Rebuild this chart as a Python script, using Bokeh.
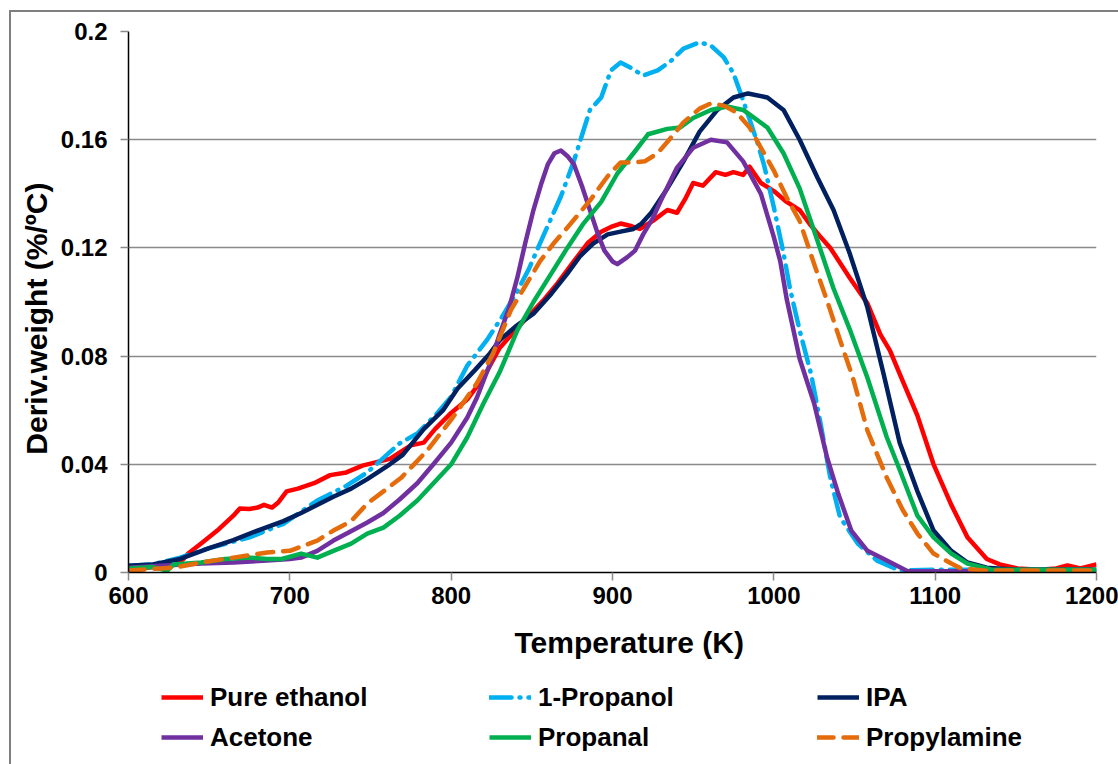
from bokeh.plotting import figure
from bokeh.layouts import column
from bokeh.models import Legend, LegendItem, FixedTicker, NumeralTickFormatter
from bokeh.embed import file_html
from bokeh.resources import INLINE

FONT = "Liberation Sans"
NBSP = "\u00a0"

x_ticks = [600, 700, 800, 900, 1000, 1100, 1200]
y_ticks = [0, 0.04, 0.08, 0.12, 0.16, 0.2]

names = ["Pure ethanol", "1-Propanol", "IPA", "Acetone", "Propanal", "Propylamine"]

ethanol_T = [600, 615, 630, 634, 637, 645, 655, 665, 669, 675, 680, 684, 689, 693, 698, 705, 715, 725,
             735, 745, 755, 762, 775, 783, 790, 800, 810, 820, 830, 845, 857, 866, 876, 885, 893, 900,
             905, 912, 917, 925, 934, 940, 945, 950, 956, 964, 970, 975, 981, 985, 992, 1000, 1008,
             1016, 1022, 1029, 1035, 1047, 1058, 1066, 1072, 1079, 1089, 1099, 1110, 1120, 1132, 1140,
             1151, 1165, 1175, 1182, 1190, 1200]
ethanol_v = [0.001, 0.002, 0.003, 0.005, 0.007, 0.0107, 0.0155, 0.021, 0.0237, 0.0235, 0.024, 0.025,
             0.024, 0.026, 0.030, 0.031, 0.033, 0.036, 0.037, 0.0395, 0.041, 0.042, 0.047, 0.048,
             0.053, 0.059, 0.064, 0.072, 0.083, 0.093, 0.1005, 0.107, 0.115, 0.122, 0.126, 0.128,
             0.129, 0.128, 0.127, 0.130, 0.134, 0.133, 0.138, 0.144, 0.143, 0.148, 0.147, 0.148,
             0.147, 0.150, 0.144, 0.141, 0.137, 0.134, 0.129, 0.124, 0.120, 0.109, 0.0995, 0.088,
             0.082, 0.072, 0.058, 0.040, 0.025, 0.013, 0.005, 0.003, 0.0015, 0.001, 0.0015, 0.0026,
             0.0015, 0.003]

propanol_T = [600, 615, 632, 650, 675, 696, 717, 735, 748, 768, 779, 790, 800, 810, 822, 831, 841, 848,
              855, 862, 868, 876, 886, 893, 899, 905, 911, 919, 928, 936, 944, 954, 961, 969, 975, 981,
              990, 994, 1000, 1006, 1010, 1016, 1023, 1029, 1035, 1041, 1052, 1064, 1078, 1100, 1150, 1200]
propanol_v = [0.0025, 0.003, 0.0055, 0.009, 0.013, 0.018, 0.0266, 0.032, 0.037, 0.0477, 0.0514, 0.058,
              0.065, 0.0765, 0.0858, 0.094, 0.104, 0.112, 0.1216, 0.131, 0.139, 0.152, 0.171, 0.1756,
              0.1856, 0.1885, 0.1867, 0.1837, 0.1856, 0.189, 0.1937, 0.196, 0.1948, 0.1904, 0.1845,
              0.1745, 0.1586, 0.1505, 0.135, 0.118, 0.105, 0.0895, 0.0736, 0.055, 0.035, 0.0205,
              0.0107, 0.0044, 0.0007, 0.001, 0.001, 0.001]

ipa_T = [600, 615, 632, 650, 665, 680, 696, 707, 727, 738, 748, 762, 770, 783, 795, 804, 815, 824, 830,
         840, 851, 862, 872, 880, 888, 897, 905, 913, 918, 924, 934, 944, 954, 965, 975, 984, 996, 1006,
         1016, 1027, 1037, 1047, 1058, 1068, 1078, 1089, 1099, 1110, 1120, 1132, 1150, 1200]
ipa_v = [0.0025, 0.003, 0.005, 0.009, 0.012, 0.0155, 0.019, 0.022, 0.028, 0.031, 0.0345, 0.040, 0.0435,
         0.053, 0.060, 0.068, 0.075, 0.081, 0.0858, 0.091, 0.0957, 0.103, 0.1105, 0.117, 0.1216, 0.125,
         0.126, 0.127, 0.129, 0.133, 0.142, 0.152, 0.163, 0.171, 0.1756, 0.1771, 0.1756, 0.171, 0.160,
         0.146, 0.134, 0.118, 0.098, 0.0735, 0.048, 0.030, 0.0155, 0.008, 0.0037, 0.0018, 0.001, 0.001]

acetone_T = [600, 620, 645, 665, 686, 700, 707, 717, 727, 737, 748, 758, 768, 779, 789, 800, 810, 816,
             824, 830, 836, 841, 846, 851, 856, 860, 864, 868, 872, 876, 881, 886, 891, 895, 900, 903,
             909, 914, 919, 925, 930, 940, 950, 961, 971, 981, 992, 1000, 1004, 1008, 1012, 1016, 1025,
             1033, 1040, 1048, 1058, 1070, 1083, 1100, 1150, 1200]
acetone_v = [0.0018, 0.0025, 0.0033, 0.0037, 0.0044, 0.005, 0.0055, 0.008, 0.0118, 0.015, 0.0185,
             0.022, 0.027, 0.033, 0.040, 0.048, 0.0573, 0.0647, 0.077, 0.088, 0.098, 0.109, 0.122,
             0.134, 0.144, 0.151, 0.155, 0.156, 0.154, 0.151, 0.143, 0.134, 0.125, 0.119, 0.115, 0.114,
             0.1165, 0.119, 0.125, 0.131, 0.1375, 0.1497, 0.157, 0.160, 0.159, 0.152, 0.140, 0.124,
             0.115, 0.101, 0.090, 0.079, 0.0625, 0.0425, 0.029, 0.0155, 0.008, 0.0044, 0.0005, 0.0005,
             0.0005, 0.0005]

propanal_T = [600, 615, 624, 628, 645, 660, 675, 686, 695, 707, 717, 727, 738, 748, 758, 768, 779, 789,
              800, 810, 820, 830, 841, 851, 862, 872, 882, 893, 903, 913, 922, 934, 942, 950, 961, 971,
              981, 996, 1006, 1016, 1027, 1037, 1047, 1058, 1070, 1078, 1089, 1099, 1110, 1120, 1135, 1200]
propanal_v = [0.0015, 0.002, 0.0007, 0.003, 0.0037, 0.005, 0.0055, 0.005, 0.005, 0.007, 0.0055, 0.008,
              0.0107, 0.0144, 0.0166, 0.021, 0.0266, 0.033, 0.040, 0.050, 0.0625, 0.074, 0.0895, 0.100,
              0.1105, 0.120, 0.129, 0.137, 0.1475, 0.155, 0.162, 0.164, 0.1645, 0.168, 0.171, 0.1723,
              0.171, 0.1645, 0.155, 0.142, 0.1227, 0.105, 0.090, 0.072, 0.050, 0.038, 0.021, 0.013,
              0.007, 0.0033, 0.001, 0.001]

propylamine_T = [600, 620, 630, 645, 665, 686, 700, 717, 727, 738, 748, 758, 769, 785, 801, 816, 826,
                 837, 846, 855, 864, 872, 886, 897, 905, 913, 920, 928, 938, 944, 954, 961, 969, 977,
                 985, 992, 1000, 1008, 1016, 1025, 1033, 1041, 1049, 1058, 1070, 1080, 1089, 1099, 1110,
                 1116, 1130, 1200]
propylamine_v = [0.0007, 0.0015, 0.002, 0.0037, 0.0055, 0.0074, 0.008, 0.0118, 0.0155, 0.019, 0.0255,
                 0.030, 0.035, 0.045, 0.0573, 0.070, 0.081, 0.097, 0.106, 0.115, 0.122, 0.1275, 0.1375,
                 0.1465, 0.1516, 0.1516, 0.152, 0.155, 0.162, 0.1664, 0.1715, 0.1734, 0.1726, 0.170,
                 0.1645, 0.157, 0.1486, 0.1386, 0.130, 0.114, 0.1005, 0.086, 0.072, 0.0525, 0.035, 0.023,
                 0.0144, 0.007, 0.0033, 0.0015, 0.0007, 0.0007]

xs = [ethanol_T, propanol_T, ipa_T, acetone_T, propanal_T, propylamine_T]
ys = [ethanol_v, propanol_v, ipa_v, acetone_v, propanal_v, propylamine_v]
colors = ["#FF0000", "#00B0F0", "#002060", "#7030A0", "#00B050", "#E46C0A"]
dashes = ["solid", "22 8 1 8", "solid", "solid", "solid", "16 10"]

# ---- main chart ----
p = figure(width=1118, height=675, x_range=(600, 1200), y_range=(0, 0.2),
           output_backend="svg", toolbar_location=None,
           min_border_left=128, min_border_right=22, min_border_top=31, min_border_bottom=103)
p.background_fill_color = "white"
p.border_fill_color = None
p.outline_line_color = None

p.xgrid.visible = False
p.ygrid.ticker = FixedTicker(ticks=y_ticks)
p.ygrid.grid_line_color = "#8a8a8a"
p.ygrid.grid_line_width = 1.5

p.xaxis.ticker = FixedTicker(ticks=x_ticks)
p.yaxis.ticker = FixedTicker(ticks=y_ticks)
p.yaxis.formatter = NumeralTickFormatter(format="0.[00]")
for ax in (p.xaxis[0], p.yaxis[0]):
    ax.axis_line_color = "black"
    ax.axis_line_width = 1.5
    ax.major_tick_line_color = "#8a8a8a"
    ax.major_tick_line_width = 1.5
    ax.major_tick_out = 8
    ax.major_tick_in = 0
    ax.minor_tick_line_color = None
    ax.major_label_text_font = FONT
    ax.major_label_text_font_style = "bold"
    ax.major_label_text_font_size = "24px"
    ax.major_label_text_color = "black"
    ax.axis_label_text_font = FONT
    ax.axis_label_text_font_style = "bold"
    ax.axis_label_text_font_size = "30px"
    ax.axis_label_text_color = "black"

# titles are centred on the whole chart rather than the plot area: pad with no-break spaces
p.xaxis.axis_label = NBSP * 4 + "Temperature (K)"
p.yaxis.axis_label = "Deriv.weight (%/ºC)" + NBSP * 4
p.xaxis.major_label_standoff = 6
p.xaxis.axis_label_standoff = 19
p.yaxis.major_label_standoff = 13
p.yaxis.axis_label_standoff = 5

for x, y, c, d in zip(xs, ys, colors, dashes):
    p.line(x, y, line_color=c, line_width=4.5, line_dash=d,
           line_cap="round" if d != "solid" else "butt", line_join="round")

# ---- legend strip (renderers kept outside its visible range, only used as legend keys) ----
q = figure(width=1118, height=89, x_range=(0, 1), y_range=(0, 1),
           output_backend="svg", toolbar_location=None,
           x_axis_type=None, y_axis_type=None, min_border=0)
q.grid.visible = False
q.outline_line_color = None
q.background_fill_color = None
q.border_fill_color = None

items = []
for n, c, d in zip(names, colors, dashes):
    r = q.line([5, 6], [5, 6], line_color=c, line_width=4.5, line_dash=d,
               line_cap="round" if d != "solid" else "butt")
    items.append(LegendItem(label=n, renderers=[r]))

legend = Legend(items=items, orientation="horizontal", ncols=3, location=(33, 10),
                glyph_width=42, glyph_height=34, label_height=34, label_width=273,
                label_standoff=7, spacing=6, padding=0, margin=0,
                border_line_color=None, background_fill_alpha=0,
                label_text_font=FONT, label_text_font_style="bold",
                label_text_font_size="26px", label_text_color="black")
q.add_layout(legend, "center")

layout = column(p, q, spacing=0, styles={
    "background": ("linear-gradient(#7f7f7f, #7f7f7f) 9px 10px / 2px 800px no-repeat, "
                   "linear-gradient(#7f7f7f, #7f7f7f) 9px 10px / 1200px 2px no-repeat, white"),
})

open("out.html", "w").write(file_html(layout, INLINE))
